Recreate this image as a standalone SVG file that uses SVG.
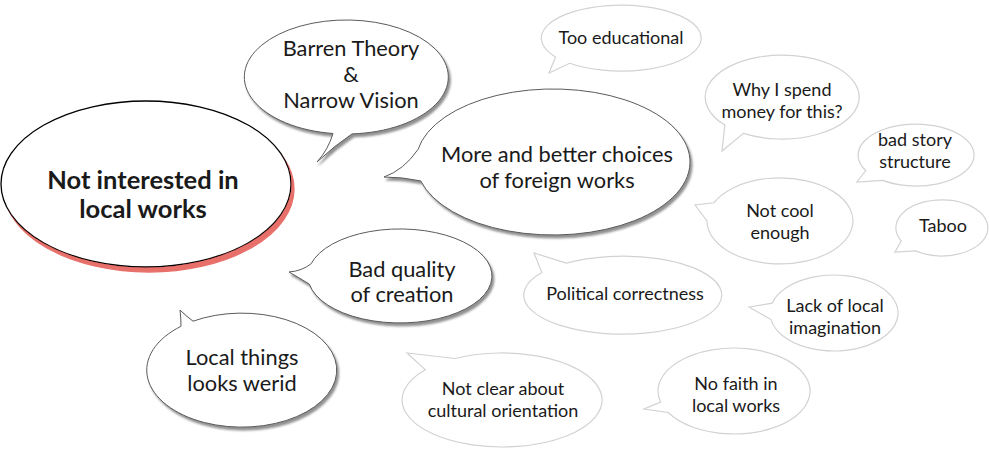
<svg xmlns="http://www.w3.org/2000/svg" width="989" height="450" viewBox="0 0 989 450">
<defs>
<filter id="gshadow" x="-10%" y="-10%" width="130%" height="140%">
<feDropShadow dx="2" dy="3" stdDeviation="0.9" flood-color="#8a8a8a" flood-opacity="0.95"/>
</filter>
<filter id="rshadow" x="-10%" y="-10%" width="130%" height="140%">
<feDropShadow dx="3" dy="5" stdDeviation="0.4" flood-color="#e8706b" flood-opacity="1"/>
</filter>
</defs>
<style>
text{font-family:Lato,"Noto Sans","Liberation Sans",sans-serif;fill:#1a1a1a;text-anchor:middle}
.main{fill:#fff;stroke:#000;stroke-width:1.3;filter:url(#rshadow)}
.dark{fill:#fff;stroke:#5a5a5a;stroke-width:1;filter:url(#gshadow)}
.light{fill:#fff;stroke:#d2d2d2;stroke-width:1.2}
.t-main{font-size:25.5px;font-weight:700}
.t-mid{font-size:21.8px}
.t-sm{font-size:18px}
</style>
<g id="connectors"/>
<g id="n-main">
<ellipse class="main" cx="146" cy="184" rx="145" ry="83"/>
<text class="t-main" x="143" y="189">Not interested in</text>
<text class="t-main" x="143" y="218">local works</text>
</g>
<g id="n-barren">
<path class="dark" d="M352,133.9 A102 57 0 1 0 333,133.5 Q328,150 317,162 Q334,146 352,133.9 Z"/>
<text class="t-mid" x="351" y="56">Barren Theory</text>
<text class="t-mid" x="351" y="82">&amp;</text>
<text class="t-mid" x="351" y="108">Narrow Vision</text>
</g>
<g id="n-more">
<path class="dark" d="M418.1,149.3 A137 73 0 1 1 420.7,180.9 Q402,177 384,177 Q404,170 418.1,149.3 Z"/>
<text class="t-mid" x="557" y="162">More and better choices</text>
<text class="t-mid" x="557" y="188">of foreign works</text>
</g>
<g id="n-bad">
<path class="dark" d="M311.1,263.8 A92 47 0 1 1 309.4,284.2 Q298,277 289,272 Q302,271 311.1,263.8 Z"/>
<text class="t-mid" x="402" y="277">Bad quality</text>
<text class="t-mid" x="402" y="302">of creation</text>
</g>
<g id="n-local">
<path class="dark" d="M193,321.2 A95 57 0 1 1 181,326.3 Q181,318 180,310 Q186,316 193,321.2 Z"/>
<text class="t-mid" x="242" y="365">Local things</text>
<text class="t-mid" x="242" y="391">looks werid</text>
</g>
<g id="n-too">
<path class="light" d="M569.6,63.3 A80 33 0 1 0 555.5,56.9 L549,73 Z"/>
<text class="t-sm" x="621" y="44">Too educational</text>
</g>
<g id="n-why">
<path class="light" d="M743.5,133.4 A77 42 0 1 0 724.8,125.1 L722,151 Z"/>
<text class="t-sm" x="782" y="96">Why I spend</text>
<text class="t-sm" x="782" y="118">money for this?</text>
</g>
<g id="n-story">
<path class="light" d="M882.7,180.4 A58 31 0 1 0 865.8,170.5 L857,182 Z"/>
<text class="t-sm" x="915" y="146">bad story</text>
<text class="t-sm" x="915" y="168">structure</text>
</g>
<g id="n-cool">
<path class="light" d="M713.8,202.8 A73 43 0 1 1 707,221 L695,205 Z"/>
<text class="t-sm" x="780" y="217">Not cool</text>
<text class="t-sm" x="780" y="239">enough</text>
</g>
<g id="n-taboo">
<path class="light" d="M915.6,250.9 A46 28 0 1 0 901.2,241 L895,252 Z"/>
<text class="t-sm" x="943" y="232">Taboo</text>
</g>
<g id="n-political">
<path class="light" d="M566.2,263.1 A99 39 0 1 1 541.9,272.6 L534,253 Z"/>
<text class="t-sm" x="625" y="300">Political correctness</text>
</g>
<g id="n-lack">
<path class="light" d="M772.2,303.2 A64 38 0 1 1 771,319.6 L749,307 Z"/>
<text class="t-sm" x="835" y="312">Lack of local</text>
<text class="t-sm" x="835" y="334">imagination</text>
</g>
<g id="n-clear">
<path class="light" d="M455,358.5 A100 47 0 1 1 425.4,369.8 L407,353 Z"/>
<text class="t-sm" x="503" y="395">Not clear about</text>
<text class="t-sm" x="503" y="417">cultural orientation</text>
</g>
<g id="n-faith">
<path class="light" d="M668.2,412.5 A76 43 0 1 0 660.6,402.1 L644,409 Z"/>
<text class="t-sm" x="736" y="390">No faith in</text>
<text class="t-sm" x="736" y="412">local works</text>
</g>
</svg>
